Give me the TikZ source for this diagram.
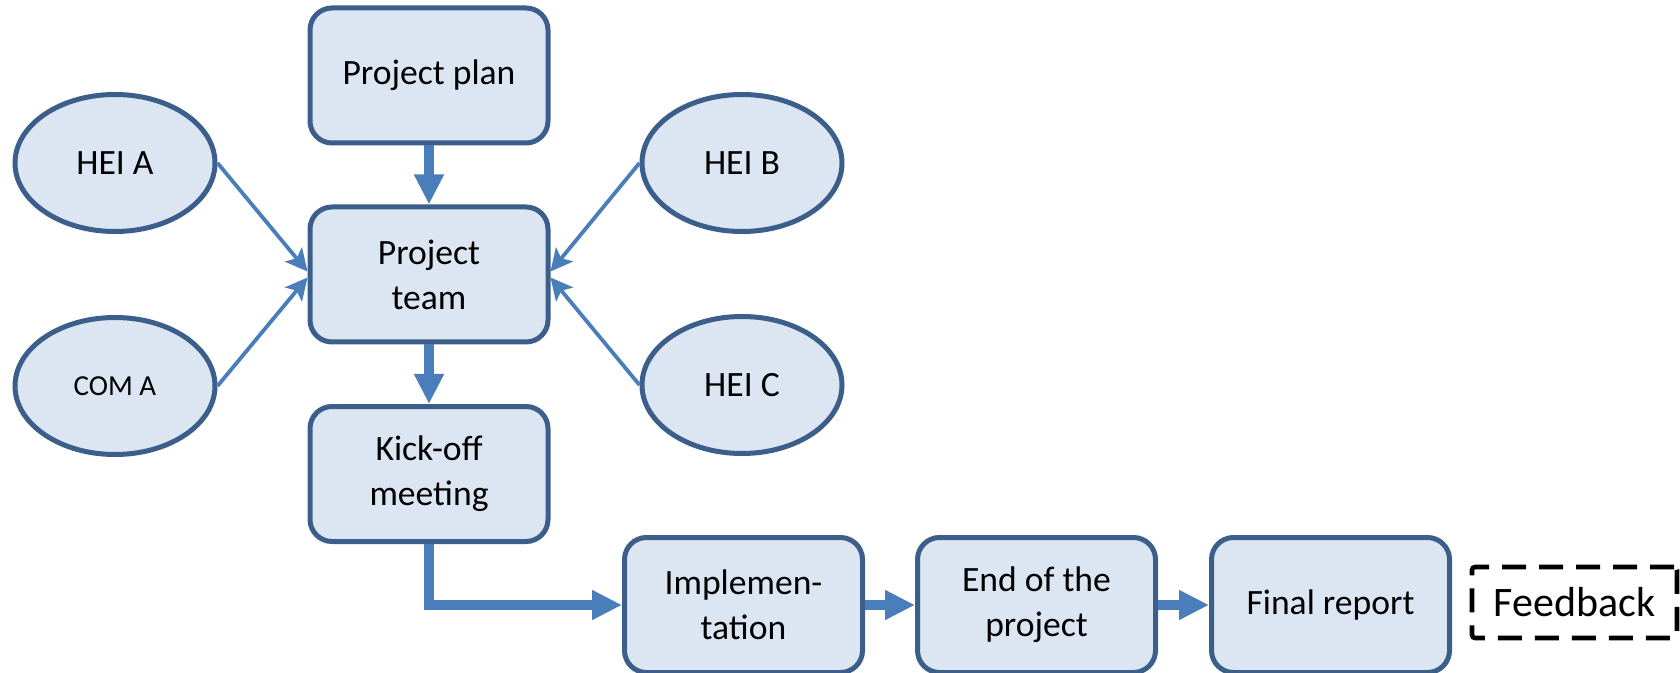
\documentclass[tikz,border=0pt]{standalone}
\usepackage{fontspec}
\setmainfont{Carlito}
\usetikzlibrary{arrows.meta,shapes.geometric}
\definecolor{boxfill}{HTML}{DCE6F2}
\definecolor{boxline}{HTML}{3B5E8A}
\definecolor{arrowblue}{HTML}{4A7EBB}
\begin{document}
\begin{tikzpicture}[x=0.5pt,y=-0.5pt,
 box/.style={draw=boxline,fill=boxfill,line width=2.5pt,rounded corners=11pt,minimum width=119pt,minimum height=67.5pt,align=center,font=\fontsize{17.8}{22.5}\selectfont,inner sep=0pt},
 org/.style={ellipse,draw=boxline,fill=boxfill,line width=2.5pt,minimum width=100pt,minimum height=68.5pt,font=\fontsize{17.8}{21}\selectfont,inner sep=0pt},
 thickarrow/.style={draw=arrowblue,line width=5pt,-{Triangle[length=15pt,width=14pt]}},
 thinarrow/.style={draw=arrowblue,line width=1.9pt,-{Stealth[length=11pt,width=11pt,inset=2.5pt]}}]
\useasboundingbox (0,0) rectangle (1680,673);
\node[box] (plan) at (429,75.5) {Project plan};
\node[box] (team) at (429,274.5) {Project\\team};
\node[box] (kick) at (429,474) {Kick-off\\meeting};
\node[box] (impl) at (743.5,605) {Implemen-\\tation};
\node[box] (endp) at (1036.5,605) {End of the\\project};
\node[box] (final) at (1330.5,605) {Final report};
\node[draw=black,line width=2.3pt,dash pattern=on 12pt off 6.5pt,rounded corners=1.5pt,minimum width=102.5pt,minimum height=35.5pt,inner sep=0pt,font=\fontsize{21}{24}\selectfont] (fb) at (1574.5,602.5) {Feedback};
\node[org] (heiA) at (115,163) {HEI A};
\node[org,font=\fontsize{14.5}{17}\selectfont] (comA) at (115,386) {COM A};
\node[org] (heiB) at (742,163) {HEI B};
\node[org] (heiC) at (742,385) {HEI C};
\draw[thickarrow] (plan) -- (team);
\draw[thickarrow] (team) -- (kick);
\draw[thickarrow] (kick.south) |- (impl.west);
\draw[thickarrow] (impl) -- (endp);
\draw[thickarrow] (endp) -- (final);
\draw[thinarrow] (heiA.east) -- ([yshift=1.5pt]team.west);
\draw[thinarrow] (comA.east) -- ([yshift=-1.5pt]team.west);
\draw[thinarrow] (heiB.west) -- ([yshift=1.5pt]team.east);
\draw[thinarrow] (heiC.west) -- ([yshift=-1.5pt]team.east);
\end{tikzpicture}
\end{document}
